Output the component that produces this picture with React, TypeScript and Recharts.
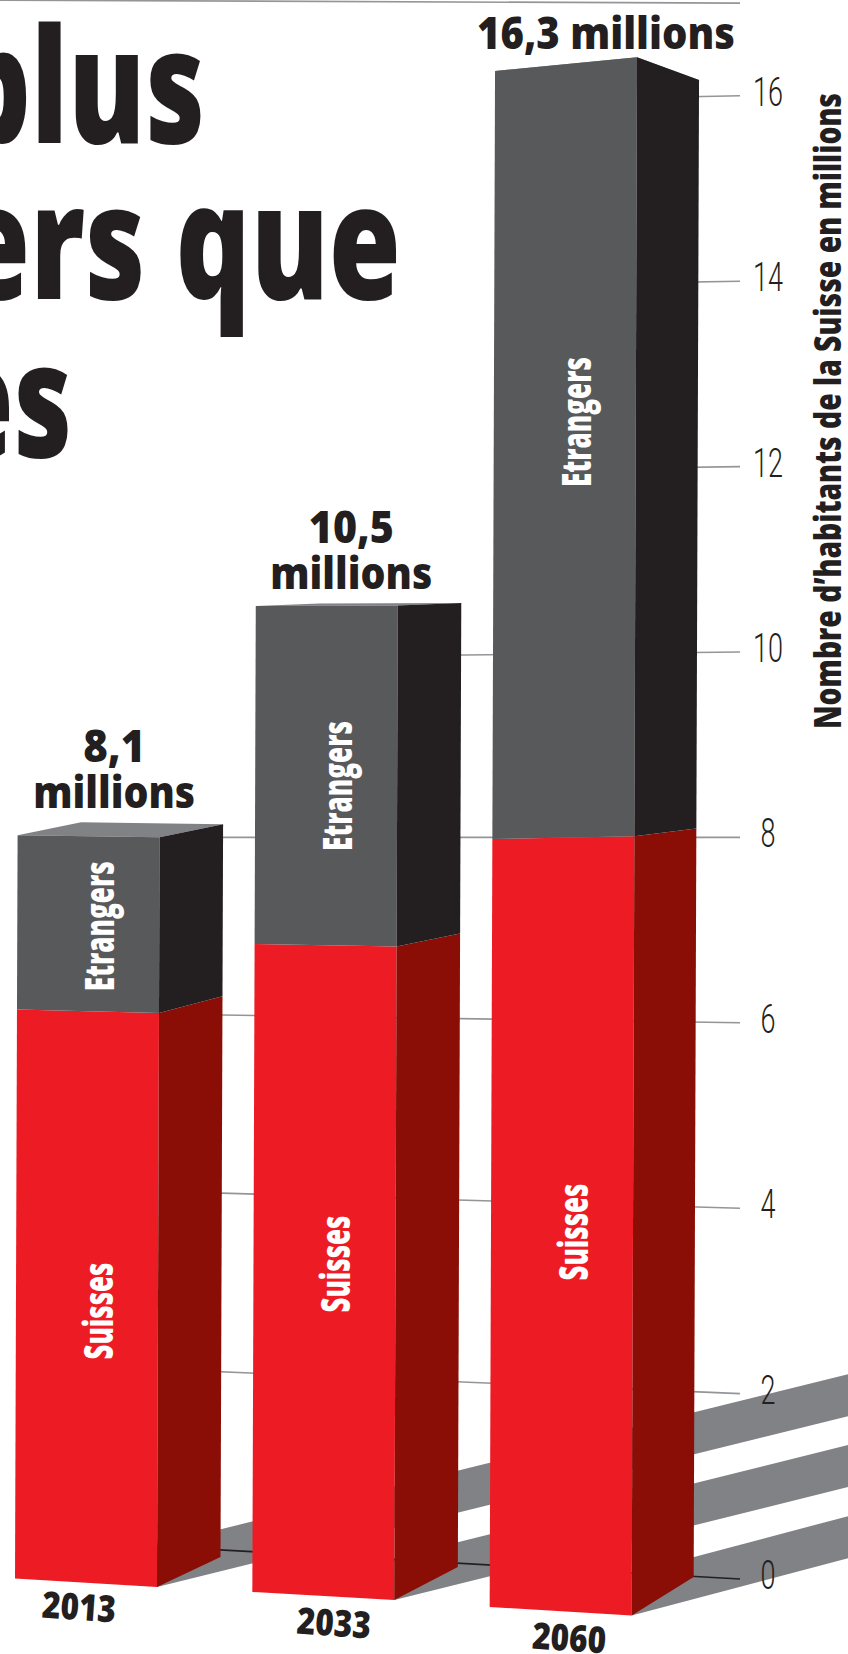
import React from 'react';
import { BarChart, Bar, XAxis, YAxis, CartesianGrid, Label } from 'recharts';

const years = ['2013', '2033', '2060'];
const suisses = [6.2, 6.9, 8.15];
const etrangers = [1.9, 3.6, 8.15];
const yTicks = [0, 2, 4, 6, 8, 10, 12, 14, 16];
const totalLines = [['8,1', 'millions'], ['10,5', 'millions'], ['16,3 millions']];
const titleLines = ['plus', 'ers que', 'es'];

const data = years.map((year, i) => ({ year, suisses: suisses[i], etrangers: etrangers[i] }));

const DARK = '#231f20';
const BOLD_FONT = '"Open Sans", sans-serif';

// the page is shifted so the first bar sits where the plot would otherwise start too far right
const SHIFT = 33;
const CHART_W = 881;
const CHART_H = 1654;
const PLOT_BOTTOM = 1579;
const UNIT = 92.7;
const margin = { top: 3.1, right: 0, bottom: 0, left: 0 };

// hand tuned perspective of each block, the print is not a flat projection
const blocks = [
  { base: -0.5, k: 0.99, drop: 8.5, tilt: 0.0087, sideDx: 63.5, sideDrop: -30, sideRate: 0.023, shadow: 0.247 },
  { base: 13, k: 1.013, drop: 8, tilt: 0.0086, sideDx: 63.5, sideDrop: -33, sideRate: 0.031, shadow: 0.249 },
  { base: 28, k: 1.0165, drop: 8.5, tilt: 0.0146, sideDx: 62, sideDrop: -38.5, sideRate: 0.04, shadow: 0.265 },
];
const LEAN = 0.0035;

const totalStyle = [
  { dx: 25.6, dy: [-73, -27], widths: [62, 162] },
  { dx: 24.5, dy: [-63, -17], widths: [85, 162] },
  { dx: 40, dy: [-22], widths: [258] },
];
const yearStyle = [{ dx: -7.5, dy: 41 }, { dx: 10, dy: 57 }, { dx: 8, dy: 72 }];
const innerDy = { Etrangers: [4, 11, -33], Suisses: [17, -4, 9] };
const innerLen = { Etrangers: 130, Suisses: 97 };

const gridSlopes = [0.056, 0.042, 0.029, 0.015, 0, -0.011, -0.014, -0.017, -0.02];
const gridStarts = [170, 170, 170, 170, 200, 420, 640, 640, 640];

function Squeezed({ x, y, width, size, fill = DARK, anchor = 'middle', rotate, children }: any) {
  return (
    <text
      x={x}
      y={y}
      fontFamily={BOLD_FONT}
      fontWeight={800}
      fontSize={size}
      fill={fill}
      textAnchor={anchor}
      textLength={width}
      lengthAdjust="spacingAndGlyphs"
      transform={rotate ? `rotate(${rotate} ${x} ${y})` : undefined}
    >
      {children}
    </text>
  );
}

function project(i: number, x: number, width: number, h: number) {
  const b = blocks[i];
  const hk = h * b.k;
  const xl = x + hk * LEAN;
  const yl = PLOT_BOTTOM + b.base - hk;
  const xr = xl + width;
  const yr = yl + b.drop - hk * b.tilt;
  const off = b.sideDrop + hk * b.sideRate;
  return { xl, yl, xr, yr, xs: xr + b.sideDx, ys: yr + off, off, dx: b.sideDx };
}

const pts = (list: number[][]) => list.map((p) => p.join(',')).join(' ');

function Block({ x, y, width, height, index, front, side, name, isTop }: any) {
  const bottom = project(index, x, width, PLOT_BOTTOM - (y + height));
  const top = project(index, x, width, PLOT_BOTTOM - y);
  const cx = (top.xl + bottom.xl) / 2 + width / 2;
  const cy = (top.yl + bottom.yl) / 2 + innerDy[name][index];
  const ts = totalStyle[index];
  return (
    <g>
      {isTop && (
        <polygon
          points={pts([[top.xl, top.yl], [top.xl + top.dx, top.yl + top.off], [top.xs, top.ys], [top.xr, top.yr]])}
          fill="#808285"
        />
      )}
      <polygon points={pts([[bottom.xl, bottom.yl], [top.xl, top.yl], [top.xr, top.yr], [bottom.xr, bottom.yr]])} fill={front} />
      <polygon points={pts([[bottom.xr, bottom.yr], [top.xr, top.yr], [top.xs, top.ys], [bottom.xs, bottom.ys]])} fill={side} />
      <Squeezed x={cx + 26} y={cy} width={innerLen[name]} size={40} fill="#fff" rotate={-90}>
        {name}
      </Squeezed>
      {isTop &&
        totalLines[index].map((line, j) => (
          <Squeezed key={line} x={top.xl + width / 2 + ts.dx} y={top.yl + ts.dy[j]} width={ts.widths[j]} size={44}>
            {line}
          </Squeezed>
        ))}
    </g>
  );
}

function Shadow({ x, width, index }: any) {
  const p = project(index, x, width, 0);
  const rise = (CHART_W - p.xr) * blocks[index].shadow;
  return (
    <polygon
      points={pts([[p.xr, p.yr], [p.xr, p.yr - 42], [CHART_W, p.yr - 42 - rise], [CHART_W, p.yr - rise]])}
      fill="#808285"
    />
  );
}

function GridLine({ y1, x2 }: any) {
  const v = Math.round((PLOT_BOTTOM - y1) / UNIT);
  const i = yTicks.indexOf(v);
  const endX = 740 + SHIFT;
  const startX = gridStarts[i] + SHIFT;
  return (
    <line
      key={v}
      x1={startX}
      x2={endX}
      y1={y1 - (endX - startX) * gridSlopes[i]}
      y2={y1}
      stroke={v === 0 ? DARK : '#939598'}
      strokeWidth={1.6}
    />
  );
}

function YTick({ y, payload }: any) {
  const label = String(payload.value);
  return (
    <text
      x={768 + SHIFT}
      y={y + 10}
      fontFamily="Roboto, sans-serif"
      fontWeight={300}
      fontSize={41}
      fill={DARK}
      textAnchor="middle"
      textLength={label.length * 15}
      lengthAdjust="spacingAndGlyphs"
    >
      {label}
    </text>
  );
}

function YearTick({ x, payload, index }: any) {
  const s = yearStyle[index];
  return (
    <Squeezed x={x + s.dx} y={PLOT_BOTTOM + s.dy} width={74} size={37} rotate={4}>
      {payload.value}
    </Squeezed>
  );
}

function AxisTitle() {
  return (
    <Squeezed x={841 + SHIFT} y={411} width={636} size={37} rotate={-90}>
      Nombre d’habitants de la Suisse en millions
    </Squeezed>
  );
}

export default function App() {
  const layer: React.CSSProperties = { position: 'absolute', left: -SHIFT, top: 0 };
  return (
    <div style={{ position: 'absolute', left: 0, top: 0, width: 848, height: CHART_H, overflow: 'hidden', background: '#fff' }}>
      <div style={layer}>
        <BarChart width={CHART_W} height={CHART_H} data={data} margin={{ ...margin, right: 169, bottom: 75 }} barSize={142}>
          <XAxis dataKey="year" hide />
          <YAxis domain={[0, 17]} hide />
          <Bar dataKey="suisses" isAnimationActive={false} shape={(p: any) => <Shadow {...p} />} />
        </BarChart>
      </div>
      <div style={layer}>
        <BarChart width={CHART_W} height={CHART_H} data={data} margin={margin} barSize={142}>
          <CartesianGrid vertical={false} horizontal={(p: any) => <GridLine key={p.y1} {...p} />} />
          <XAxis dataKey="year" height={75} axisLine={false} tickLine={false} interval={0} tick={(p: any) => <YearTick {...p} />} />
          <YAxis
            orientation="right"
            width={169}
            domain={[0, 17]}
            ticks={yTicks}
            interval={0}
            axisLine={false}
            tickLine={false}
            tick={(p: any) => <YTick {...p} />}
          >
            <Label content={<AxisTitle />} />
          </YAxis>
          <Bar
            dataKey="suisses"
            stackId="pop"
            isAnimationActive={false}
            shape={(p: any) => <Block {...p} name="Suisses" front="#ed1c24" side="#8a0e05" />}
          />
          <Bar
            dataKey="etrangers"
            stackId="pop"
            isAnimationActive={false}
            shape={(p: any) => <Block {...p} name="Etrangers" front="#58595b" side={DARK} isTop />}
          />
        </BarChart>
      </div>
      <svg width={848} height={CHART_H} style={{ position: 'absolute', left: 0, top: 0, pointerEvents: 'none' }}>
        <Squeezed x={-43} y={143} width={248} size={160} anchor="start">{titleLines[0]}</Squeezed>
        <Squeezed x={-42} y={299} width={443} size={160} anchor="start">{titleLines[1]}</Squeezed>
        <Squeezed x={-56} y={457} width={128} size={160} anchor="start">{titleLines[2]}</Squeezed>
      </svg>
    </div>
  );
}
